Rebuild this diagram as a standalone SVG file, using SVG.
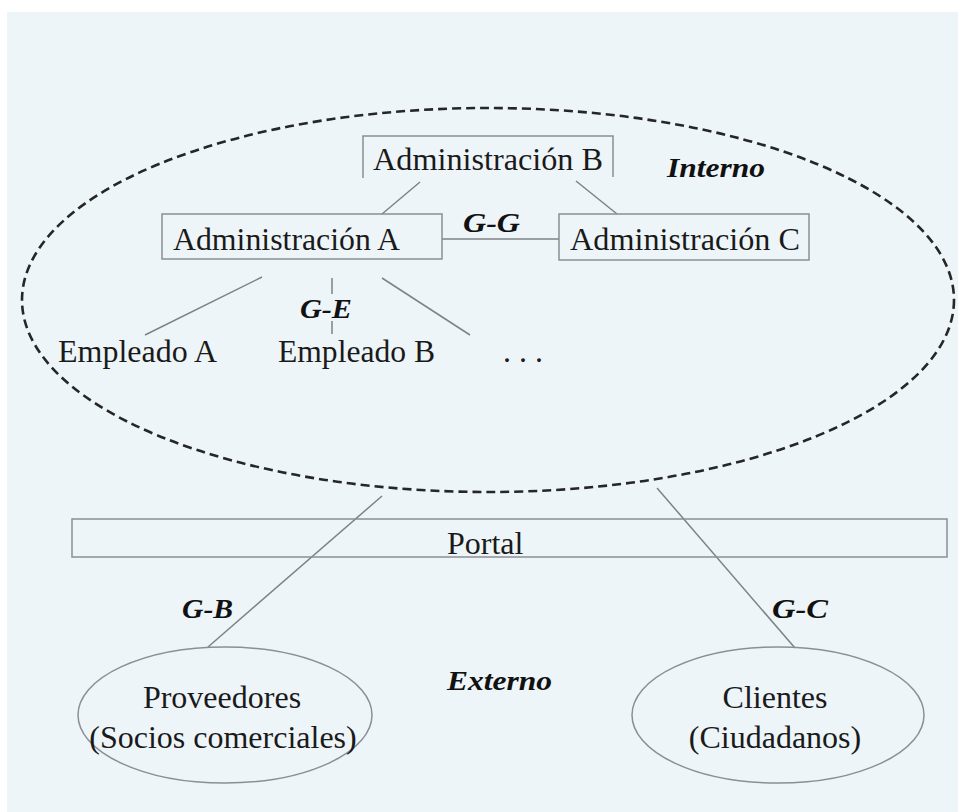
<svg xmlns="http://www.w3.org/2000/svg" width="958" height="812" viewBox="0 0 958 812">
  <style>
    .t { font-family: "Liberation Serif", "Times New Roman", serif; font-size: 32px; fill: #1a1a1a; }
    .b { font-family: "Liberation Serif", "Times New Roman", serif; font-size: 28px; font-weight: bold; font-style: italic; fill: #111; }
    .box { fill: none; stroke: #8a8f94; stroke-width: 1.5; }
    .ln { stroke: #7d8286; stroke-width: 1.5; fill: none; }
  </style>
  <rect x="0" y="0" width="958" height="812" fill="#ffffff"/>
  <rect x="7" y="12" width="951" height="800" fill="#eef5f9"/>

  <!-- internal zone boundary -->
  <g id="interno">
    <ellipse cx="488" cy="300" rx="466" ry="192" fill="none" stroke="#262626" stroke-width="2.6" stroke-dasharray="9 5"/>
    <text class="b" x="667" y="177" textLength="98" lengthAdjust="spacingAndGlyphs">Interno</text>
  </g>

  <!-- connectors -->
  <g id="connectors">
    <line class="ln" x1="420" y1="182" x2="382" y2="214"/>
    <line class="ln" x1="576" y1="181" x2="617" y2="214"/>
    <line class="ln" x1="442" y1="239" x2="559" y2="239"/>
    <line class="ln" x1="262" y1="277" x2="145" y2="335"/>
    <line class="ln" x1="332" y1="278" x2="332" y2="294"/>
    <line class="ln" x1="332" y1="321" x2="332" y2="334"/>
    <line class="ln" x1="382" y1="278" x2="470" y2="335"/>
    <line class="ln" x1="382" y1="496" x2="208" y2="647"/>
    <line class="ln" x1="657" y1="488" x2="795" y2="648"/>
  </g>

  <g id="adm-b">
    <path class="box" d="M363 178 V136 H613 V177"/>
    <text class="t" x="373" y="170" textLength="230" lengthAdjust="spacingAndGlyphs">Administración B</text>
  </g>
  <g id="adm-a">
    <rect class="box" x="162" y="214" width="280" height="45"/>
    <text class="t" x="173" y="250" textLength="227" lengthAdjust="spacingAndGlyphs">Administración A</text>
  </g>
  <g id="adm-c">
    <rect class="box" x="559" y="214" width="250" height="46"/>
    <text class="t" x="570" y="250" textLength="230" lengthAdjust="spacingAndGlyphs">Administración C</text>
  </g>
  <g id="label-gg"><text class="b" x="463" y="232" textLength="57" lengthAdjust="spacingAndGlyphs">G-G</text></g>
  <g id="label-ge"><text class="b" x="300" y="318" textLength="52" lengthAdjust="spacingAndGlyphs">G-E</text></g>

  <g id="empleado-a"><text class="t" x="58" y="362" textLength="159" lengthAdjust="spacingAndGlyphs">Empleado A</text></g>
  <g id="empleado-b"><text class="t" x="278" y="362" textLength="157" lengthAdjust="spacingAndGlyphs">Empleado B</text></g>
  <g id="empleado-n"><text class="t" x="503" y="362">. . .</text></g>

  <g id="portal">
    <rect class="box" x="72" y="519" width="875" height="38"/>
    <text class="t" x="447" y="554">Portal</text>
  </g>

  <g id="label-gb"><text class="b" x="182" y="618" textLength="51" lengthAdjust="spacingAndGlyphs">G-B</text></g>
  <g id="label-gc"><text class="b" x="772" y="618" textLength="56" lengthAdjust="spacingAndGlyphs">G-C</text></g>
  <g id="externo"><text class="b" x="447" y="690" textLength="105" lengthAdjust="spacingAndGlyphs">Externo</text></g>

  <g id="proveedores">
    <ellipse class="box" cx="225" cy="715" rx="147" ry="68"/>
    <text class="t" x="222" y="708" text-anchor="middle">Proveedores</text>
    <text class="t" x="223" y="748" text-anchor="middle">(Socios comerciales)</text>
  </g>
  <g id="clientes">
    <ellipse class="box" cx="778" cy="715" rx="146" ry="68"/>
    <text class="t" x="775" y="708" text-anchor="middle">Clientes</text>
    <text class="t" x="775" y="748" text-anchor="middle">(Ciudadanos)</text>
  </g>
</svg>
